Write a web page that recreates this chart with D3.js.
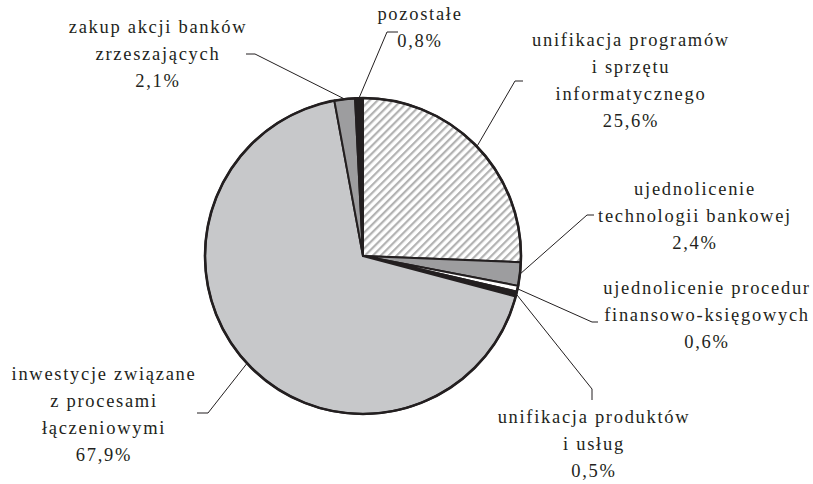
<!DOCTYPE html>
<html><head><meta charset="utf-8">
<script src="https://cdn.jsdelivr.net/npm/d3@7/dist/d3.min.js"></script>
<style>
html,body{margin:0;padding:0;background:#fff;}
svg{display:block;}
text{font-family:"Liberation Serif","Times New Roman",serif;font-size:18.5px;letter-spacing:1.7px;fill:#231f20;}
</style></head>
<body>
<svg id="chart" width="813" height="484"></svg>
<script>
// Data
const categories = [
  "unifikacja programów i sprzętu informatycznego",
  "ujednolicenie technologii bankowej",
  "ujednolicenie procedur finansowo-księgowych",
  "unifikacja produktów i usług",
  "inwestycje związane z procesami łączeniowymi",
  "zakup akcji banków zrzeszających",
  "pozostałe"
];
const values = [25.6, 2.4, 0.6, 0.5, 67.9, 2.1, 0.8];
const valueLabels = ["25,6%", "2,4%", "0,6%", "0,5%", "67,9%", "2,1%", "0,8%"];
const labelLines = [
  ["unifikacja programów", "i sprzętu", "informatycznego"],
  ["ujednolicenie", "technologii bankowej"],
  ["ujednolicenie procedur", "finansowo-księgowych"],
  ["unifikacja produktów", "i usług"],
  ["inwestycje związane", "z procesami", "łączeniowymi"],
  ["zakup akcji banków", "zrzeszających"],
  ["pozostałe"]
];

// Styles / layout (not data)
const fills = ["url(#hatch)", "#9d9d9f", "#ffffff", "#231f20", "#c7c8ca", "#9d9d9f", "#231f20"];
const layout = [
  {elbow:[515,81], end:[523,81], tx:631, ty:46},
  {elbow:[587,215], end:[594,215], tx:695, ty:195},
  {elbow:[592,322], end:[598,322], tx:707, ty:294},
  {elbow:[592,389], end:[592,400], tx:594, ty:423},
  {elbow:[208,413], end:[197,413], tx:104, ty:380},
  {elbow:[255,54], end:[246,54], tx:158, ty:33},
  {elbow:[387,32], end:[398,32], tx:420, ty:20}
];
const lineH = 27;

const svg = d3.select("#chart");
const defs = svg.append("defs");
const pat = defs.append("pattern").attr("id","hatch").attr("patternUnits","userSpaceOnUse")
  .attr("width",5.6).attr("height",5.6).attr("patternTransform","rotate(45)");
pat.append("rect").attr("width",5.6).attr("height",5.6).attr("fill","#fff");
pat.append("rect").attr("x",0).attr("y",0).attr("width",2.2).attr("height",5.6).attr("fill","#b3b3b3");

const cx = 363, cy = 256, R = 158;
const g = svg.append("g").attr("transform",`translate(${cx},${cy})`);

const pie = d3.pie().sort(null).value(d => d).startAngle(0).endAngle(2*Math.PI);
const arcs = pie(values);
const arc = d3.arc().innerRadius(0).outerRadius(R);

g.selectAll("path.slice").data(arcs).enter().append("path")
  .attr("class","slice")
  .attr("d", arc)
  .attr("fill", (d,i) => fills[i])
  .attr("stroke", "#231f20")
  .attr("stroke-width", 2)
  .attr("stroke-linejoin","round");

g.append("circle").attr("r", R).attr("fill","none").attr("stroke","#231f20").attr("stroke-width",2.6);

arcs.forEach((d,i) => {
  const a = (d.startAngle + d.endAngle)/2;
  const x0 = cx + R*Math.sin(a), y0 = cy - R*Math.cos(a);
  const L = layout[i];
  svg.append("polyline")
    .attr("points", [[x0,y0], L.elbow, L.end].map(p => p.join(",")).join(" "))
    .attr("fill","none").attr("stroke","#231f20").attr("stroke-width",1);
  const t = svg.append("text").attr("text-anchor","middle");
  const lines = labelLines[i].concat([valueLabels[i]]);
  lines.forEach((s,k) => {
    t.append("tspan").attr("x", L.tx).attr("y", L.ty + k*lineH).text(s);
  });
});
</script>
</body></html>
